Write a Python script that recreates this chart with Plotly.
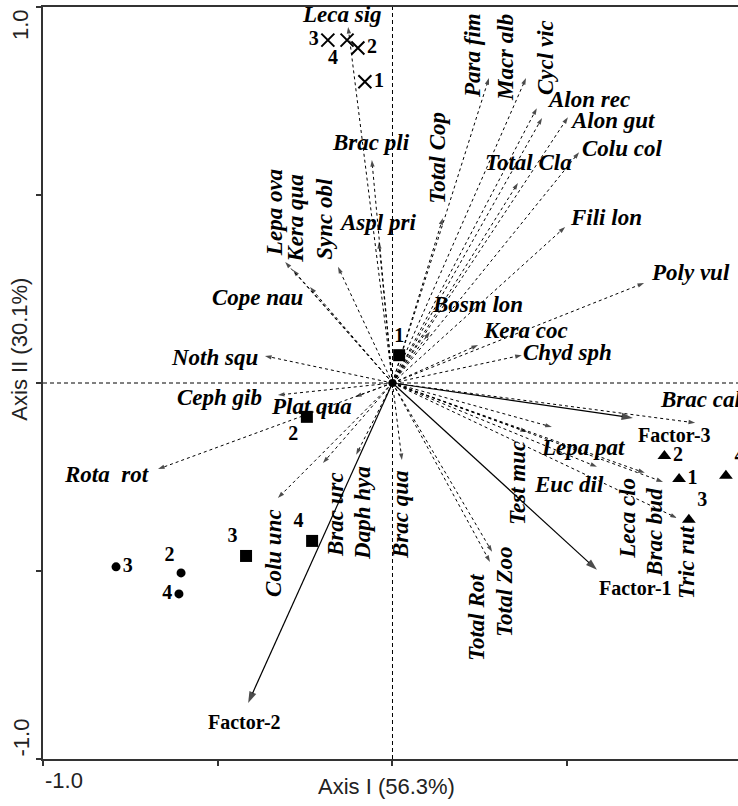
import math
import plotly.graph_objects as go

# ---- variable loadings on Axis I / Axis II ----
species = ["Leca sig", "Brac pli", "Aspl pri", "Total Cop", "Para fim", "Macr alb",
           "Cycl vic", "Alon rec", "Alon gut", "Colu col", "Total Cla", "Fili lon",
           "Poly vul", "Bosm lon", "Kera coc", "Chyd sph", "Brac cal", "Test muc",
           "Lepa pat", "Euc dil", "Leca clo", "Brac bud", "Tric rut", "Total Rot",
           "Total Zoo", "Brac qua", "Daph hya", "Brac urc", "Colu unc", "Plat qua",
           "Ceph gib", "Noth squ", "Rota  rot", "Cope nau", "Lepa ova", "Kera qua",
           "Sync obl"]
sp_ax1 = [-0.127, -0.059, -0.039, 0.144, 0.276, 0.382,
          0.413, 0.428, 0.502, 0.534, 0.359, 0.494,
          0.720, 0.107, 0.245, 0.370, 0.866, 0.385,
          0.456, 0.585, 0.722, 0.774, 0.814, 0.279,
          0.285, 0.027, -0.104, -0.199, -0.328, -0.107,
          -0.328, -0.365, -0.671, -0.236, -0.307, -0.285,
          -0.156]
sp_ax2 = [0.947, 0.593, 0.375, 0.439, 0.811, 0.811,
          0.731, 0.705, 0.707, 0.614, 0.532, 0.415,
          0.266, 0.136, 0.101, 0.074, -0.106, -0.130,
          -0.117, -0.223, -0.239, -0.263, -0.359, -0.476,
          -0.449, -0.205, -0.191, -0.213, -0.306, -0.037,
          -0.032, 0.072, -0.229, 0.255, 0.322, 0.301,
          0.309]

# ---- environmental factors ----
factors = ["Factor-1", "Factor-2", "Factor-3"]
fac_ax1 = [0.585, -0.413, 0.688]
fac_ax2 = [-0.497, -0.851, -0.093]

# ---- sampling sites (four groups, numbered) ----
cross_lbl = ["1", "2", "3", "4"]
cross_ax1 = [-0.079, -0.099, -0.185, -0.130]
cross_ax2 = [0.801, 0.891, 0.912, 0.912]

square_lbl = ["1", "2", "3", "4"]
square_ax1 = [0.019, -0.245, -0.419, -0.230]
square_ax2 = [0.074, -0.090, -0.460, -0.420]

circle_lbl = ["2", "3", "4"]
circle_ax1 = [-0.605, -0.791, -0.611]
circle_ax2 = [-0.505, -0.489, -0.561]

tri_lbl = ["1", "2", "3", "4"]
tri_ax1 = [0.820, 0.778, 0.848, 0.954]
tri_ax2 = [-0.255, -0.194, -0.364, -0.247]

# ---- label placement (screen px offset right/down from arrow tip, vertical text?) ----
sp_label_place = [(-6, -12, 0), (-1, -18, 0), (-1, -20, 0), (-5, -60, 1), (-17, -23, 1),
                  (-21, -20, 1), (8, -51, 1), (46, -18, 0), (45, 3, 0), (43, -4, 0),
                  (11, -20, 0), (41, -9, 0), (46, -10, 0), (48, -27, 0), (47, -15, 0),
                  (46, -3, 0), (5, -23, 0), (-9, 51, 1), (31, 21, 0), (-28, 18, 0),
                  (-17, 45, 1), (-8, 51, 1), (10, 44, 1), (-13, 56, 1), (13, 40, 1),
                  (-2, 54, 1), (7, 58, 1), (12, 51, 1), (-5, 55, 1), (-44, 10, 0),
                  (-58, 2, 0), (-50, 2, 0), (-51, 5, 0), (-52, 10, 0), (-10, -49, 1),
                  (3, -52, 1), (-13, -48, 1)]
fac_label_place = [(39, 18), (-4, 19), (42, 17)]
cross_pos = ["middle right", "middle right", "middle left", "bottom left"]
square_pos = ["top center", "bottom left", "top left", "top left"]
circle_pos = ["top left", "middle right", "middle left"]
tri_pos = ["middle right", "middle right", "top right", "top right"]

W, H = 738, 806
M = dict(l=43, r=0, t=7, b=47)
X_RANGE = [-1.0, 0.9886]
Y_RANGE = [-1.0, 1.0]

SERIF = "Liberation Serif"
SANS = "Liberation Sans"
INK = "#000000"
FRAME = "#333333"

fig = go.Figure()

# dashed loading vectors with small arrowheads
for nm, x, y in zip(species, sp_ax1, sp_ax2):
    fig.add_trace(go.Scatter(
        x=[0, x], y=[0, y], mode="lines+markers",
        line=dict(color=INK, width=1, dash="3px,3px"),
        marker=dict(symbol="arrow", size=[0, 7], color=INK, angleref="previous",
                    line=dict(width=0)),
        hoverinfo="skip", showlegend=False))

# solid factor vectors
for nm, x, y in zip(factors, fac_ax1, fac_ax2):
    fig.add_trace(go.Scatter(
        x=[0, x], y=[0, y], mode="lines+markers",
        line=dict(color=INK, width=1.2),
        marker=dict(symbol="arrow", size=[0, 12], color=INK, angleref="previous",
                    line=dict(width=0)),
        hoverinfo="skip", showlegend=False))

# origin
fig.add_trace(go.Scatter(x=[0], y=[0], mode="markers",
                         marker=dict(symbol="circle", size=8, color=INK),
                         hoverinfo="skip", showlegend=False))

num_font = dict(family=SERIF, size=20, color=INK, weight="bold")


def add_sites(xs, ys, labels, positions, symbol, size, line_w=0):
    fig.add_trace(go.Scatter(
        x=xs, y=ys, mode="markers+text", text=labels, textposition=positions,
        textfont=num_font,
        marker=dict(symbol=symbol, size=size, color=INK,
                    line=dict(color=INK, width=line_w)),
        hoverinfo="skip", showlegend=False, cliponaxis=False))


add_sites(cross_ax1, cross_ax2, cross_lbl, cross_pos, "x-thin", 13, 2)
add_sites(square_ax1, square_ax2, square_lbl, square_pos, "square", 12)
add_sites(circle_ax1, circle_ax2, circle_lbl, circle_pos, "circle", 9)
add_sites(tri_ax1, tri_ax2, tri_lbl, tri_pos, "triangle-up", 12)

annotations = []
label_font = dict(family=SERIF, size=23, color=INK, weight="bold", style="italic")
for nm, x, y, (dx, dy, vert) in zip(species, sp_ax1, sp_ax2, sp_label_place):
    annotations.append(dict(
        x=x, y=y, xref="x", yref="y", text=nm, showarrow=False,
        xshift=dx, yshift=-dy, textangle=-90 if vert else 0,
        xanchor="center", yanchor="middle", font=label_font))

fac_font = dict(family=SERIF, size=20, color=INK, weight="bold")
for nm, x, y, (dx, dy) in zip(factors, fac_ax1, fac_ax2, fac_label_place):
    annotations.append(dict(
        x=x, y=y, xref="x", yref="y", text=nm, showarrow=False,
        xshift=dx, yshift=-dy, xanchor="center", yanchor="middle", font=fac_font))

# tick labels at the axis ends and axis titles
tick_font = dict(family=SANS, size=22, color="#222222")
annotations += [
    dict(x=-1.0, y=0, xref="x", yref="paper", text="-1.0", showarrow=False,
         xanchor="left", yanchor="top", yshift=-7, font=tick_font),
    dict(x=1.0, y=0, xref="x", yref="paper", text="1.0", showarrow=False,
         xanchor="right", yanchor="top", yshift=-7, font=tick_font),
    dict(x=0, y=1.0, xref="paper", yref="y", text="1.0", showarrow=False,
         textangle=-90, xanchor="right", yanchor="top", xshift=-8, font=tick_font),
    dict(x=0, y=-1.0, xref="paper", yref="y", text="-1.0", showarrow=False,
         textangle=-90, xanchor="right", yanchor="bottom", xshift=-8, font=tick_font),
    dict(x=0, y=0, xref="x", yref="paper", text="Axis I (56.3%)", showarrow=False,
         xanchor="center", yanchor="top", yshift=-13, xshift=-6, font=tick_font),
    dict(x=0, y=0.09, xref="paper", yref="y", text="Axis II (30.1%)", showarrow=False,
         textangle=-90, xanchor="right", yanchor="middle", xshift=-9, font=tick_font),
]

shapes = [
    dict(type="line", xref="x", yref="paper", x0=0, x1=0, y0=0, y1=1,
         line=dict(color=INK, width=1, dash="4px,3px"), layer="below"),
    dict(type="line", xref="paper", yref="y", x0=0, x1=1, y0=0, y1=0,
         line=dict(color=INK, width=1, dash="4px,3px"), layer="below"),
]

fig.update_layout(
    width=W, height=H, margin=M,
    plot_bgcolor="white", paper_bgcolor="white",
    showlegend=False, annotations=annotations, shapes=shapes,
    xaxis=dict(range=X_RANGE, showgrid=False, zeroline=False, showline=True,
               mirror=True, linecolor=FRAME, linewidth=1.5,
               tickvals=[-1, -0.5, 0, 0.5], ticktext=["", "", "", ""],
               ticks="outside", ticklen=5, tickcolor=FRAME, tickwidth=1.5,
               automargin=False, fixedrange=True),
    yaxis=dict(range=Y_RANGE, showgrid=False, zeroline=False, showline=True,
               mirror=False, linecolor=FRAME, linewidth=1.5,
               tickvals=[-1, -0.5, 0, 0.5, 1], ticktext=["", "", "", "", ""],
               ticks="outside", ticklen=5, tickcolor=FRAME, tickwidth=1.5,
               automargin=False, fixedrange=True),
)

fig.write_html("out.html")
